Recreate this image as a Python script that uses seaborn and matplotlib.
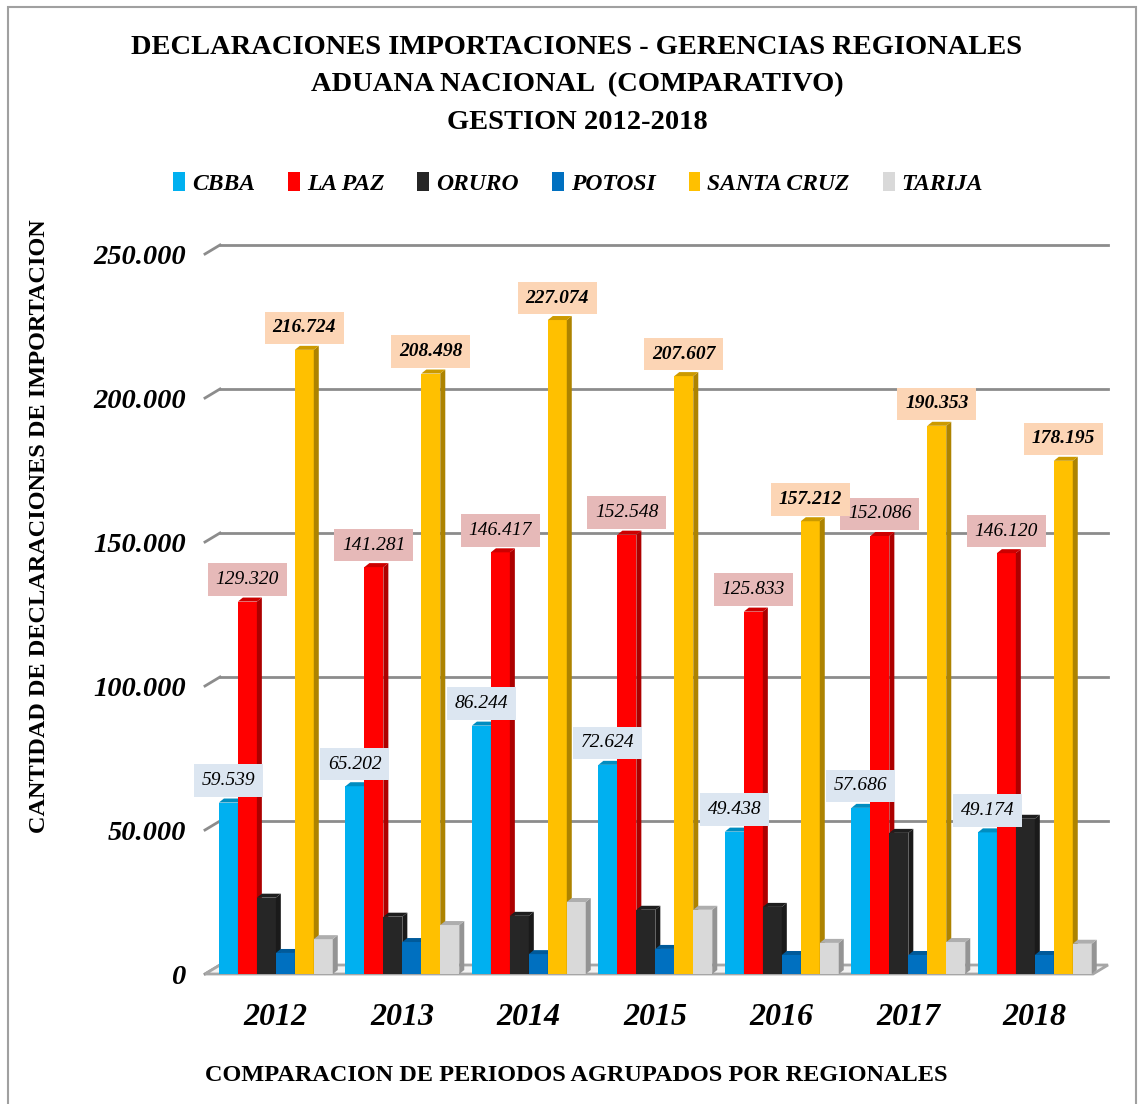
import numpy as np
import pandas as pd
import matplotlib.pyplot as plt
import seaborn as sns
from matplotlib.patches import Polygon, Patch, Rectangle
from matplotlib.colors import to_rgb

# data
years = ['2012', '2013', '2014', '2015', '2016', '2017', '2018']
regions = ['CBBA', 'LA PAZ', 'ORURO', 'POTOSI', 'SANTA CRUZ', 'TARIJA']
cbba = [59539, 65202, 86244, 72624, 49438, 57686, 49174]
la_paz = [129320, 141281, 146417, 152548, 125833, 152086, 146120]
oruro = [26500, 19900, 20200, 22300, 23300, 49000, 53900]
potosi = [7300, 11100, 6900, 8700, 6600, 6600, 6600]
santa_cruz = [216724, 208498, 227074, 207607, 157212, 190353, 178195]
tarija = [12100, 17000, 25000, 22300, 10800, 11100, 10500]
colors = ['#00b0f0', '#ff0000', '#262626', '#0070c0', '#ffc000', '#d9d9d9']
label_bg = {'CBBA': '#dce6f1', 'LA PAZ': '#e6b9b8', 'SANTA CRUZ': '#fcd5b5'}

series = [cbba, la_paz, oruro, potosi, santa_cruz, tarija]
df = pd.DataFrame({
    'year': np.tile(years, len(regions)),
    'region': np.repeat(regions, len(years)),
    'value': np.concatenate(series),
})

SERIF = ['Liberation Serif', 'DejaVu Serif']
plt.rcParams['font.family'] = SERIF

fig = plt.figure(figsize=(11.38, 11.04), dpi=100)
ax = fig.add_axes([205 / 1138, 1 - 974 / 1104, 888 / 1138, 720 / 1104])

sns.barplot(data=df, x='year', y='value', hue='region', hue_order=regions,
            order=years, palette=colors, saturation=1, width=0.9,
            legend=False, ax=ax, edgecolor='none', linewidth=0)

ax.set_xlim(-0.56, 6.46)
ax.set_ylim(0, 250000)
for s in ax.spines.values():
    s.set_visible(False)
ax.set_xlabel('')
ax.set_ylabel('')
ax.tick_params(length=0)
ax.set_yticks([0, 50000, 100000, 150000, 200000, 250000])
ax.set_yticklabels([f'{v:,}'.replace(',', '.') for v in ax.get_yticks().astype(int)],
                   fontsize=20.5, fontweight='bold', fontstyle='italic')
ax.tick_params(axis='y', pad=14)
ax.tick_params(axis='x', pad=21)
for t in ax.get_xticklabels():
    t.set_fontsize(23)
    t.set_fontweight('bold')
    t.set_fontstyle('italic')

# pixel offsets converted to data units for the pseudo-3D look
def px_to_data(dx, dy):
    p0 = ax.transData.transform((0, 0))
    q = ax.transData.inverted().transform(p0 + np.array([dx, dy]))
    return q[0], q[1]

wdx, wdy = px_to_data(15, 9)
bdx, bdy = px_to_data(5, 4)
x0, x1 = ax.get_xlim()

# floor
ax.add_patch(Polygon([(x0, 0), (x1, 0), (x1 + wdx, wdy), (x0 + wdx, wdy)],
                     closed=True, facecolor='#f2f2f2', edgecolor='#a6a6a6',
                     linewidth=2, clip_on=False, zorder=1))
# back wall gridlines
for v in ax.get_yticks()[1:]:
    ax.plot([x0 + wdx, x1 + wdx], [v + wdy, v + wdy], color='#8c8c8c',
            lw=2, clip_on=False, zorder=0.5)
for v in ax.get_yticks():
    ax.plot([x0, x0 + wdx], [v, v + wdy], color='#8c8c8c', lw=2,
            clip_on=False, zorder=0.5)


def shade(c, f):
    r, g, b = to_rgb(c)
    return (r * f, g * f, b * f)


for j, (cont, col) in enumerate(zip(ax.containers, colors)):
    for bar in cont:
        bx, bw, h = bar.get_x(), bar.get_width(), bar.get_height()
        z = 2 + j * 0.1
        bar.set_zorder(z)
        side = Polygon([(bx + bw, 0), (bx + bw + bdx, bdy),
                        (bx + bw + bdx, h + bdy), (bx + bw, h)],
                       closed=True, facecolor=shade(col, 0.68),
                       edgecolor='none', zorder=z, clip_on=False)
        top = Polygon([(bx, h), (bx + bw, h), (bx + bw + bdx, h + bdy),
                       (bx + bdx, h + bdy)],
                      closed=True, facecolor=shade(col, 0.8),
                      edgecolor='none', zorder=z, clip_on=False)
        ax.add_patch(side)
        ax.add_patch(top)

# data labels
for j, (cont, reg) in enumerate(zip(ax.containers, regions)):
    if reg not in label_bg:
        continue
    bold = reg == 'SANTA CRUZ'
    for bar in cont:
        h = bar.get_height()
        ax.annotate(f'{int(h):,}'.replace(',', '.'),
                    xy=(bar.get_x() + bar.get_width() / 2, h),
                    xytext=(0, 22), textcoords='offset pixels',
                    ha='center', va='center', fontsize=14,
                    fontstyle='italic', fontweight='bold' if bold else 'normal',
                    bbox=dict(boxstyle='square,pad=0.4', fc=label_bg[reg], ec='none'),
                    zorder=5 + j, annotation_clip=False)

# titles
title_lines = ['DECLARACIONES IMPORTACIONES - GERENCIAS REGIONALES',
               'ADUANA NACIONAL  (COMPARATIVO)',
               'GESTION 2012-2018']
for line, y in zip(title_lines, [0.957, 0.923, 0.889]):
    fig.text(0.507, y, line, ha='center', va='center', fontsize=20.5,
             fontweight='bold')

fig.text(0.035, 0.523, 'CANTIDAD DE DECLARACIONES DE IMPORTACION',
         rotation=90, ha='center', va='center', fontsize=17.5, fontweight='bold')
fig.text(0.506, 0.026, 'COMPARACION DE PERIODOS AGRUPADOS POR REGIONALES',
         ha='center', va='center', fontsize=17.5, fontweight='bold')

handles = [Patch(facecolor=c, edgecolor='none', label=r) for r, c in zip(regions, colors)]
fig.legend(handles=handles, loc='center', bbox_to_anchor=(0.508, 0.834), ncol=6,
           frameon=False, handlelength=0.5, handleheight=0.9, handletextpad=0.3,
           columnspacing=1.4, prop=dict(family=SERIF, size=17, weight='bold', style='italic'))

fig.add_artist(Rectangle((8 / 1138, -0.01), 1128 / 1138, 1.01 - 7 / 1104,
                         transform=fig.transFigure, fill=False,
                         edgecolor='#a0a0a0', linewidth=1.5))

fig.savefig('out.png', dpi=100, facecolor='white')
